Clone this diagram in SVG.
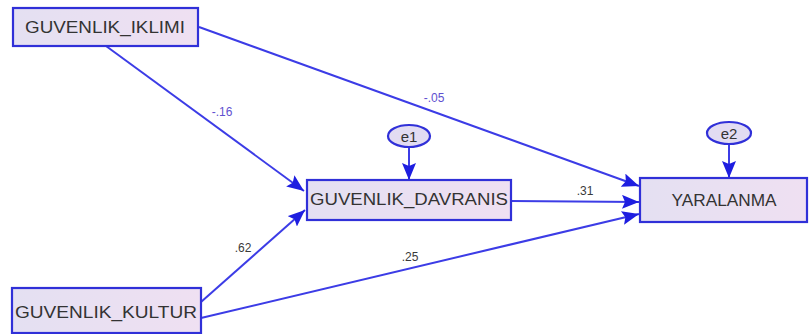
<svg xmlns="http://www.w3.org/2000/svg" width="811" height="334" viewBox="0 0 811 334">
  <defs>
    <linearGradient id="boxFill" x1="0" y1="0" x2="1" y2="0">
      <stop offset="0" stop-color="#e4e0f2"/>
      <stop offset="1" stop-color="#efe0f2"/>
    </linearGradient>
    <marker id="arrow" markerUnits="userSpaceOnUse" markerWidth="18" markerHeight="14" refX="17" refY="7" orient="auto">
      <path d="M0,0 L17,7 L0,14 L3,7 Z" fill="#1e1ee0"/>
    </marker>
    <style>
      .box { fill: url(#boxFill); stroke: #3030d8; stroke-width: 2.2; }
      .err { fill: #e2dcf2; stroke: #3030d8; stroke-width: 2.2; }
      .name { font-family: "Liberation Sans", Arial, sans-serif; font-size: 16px; fill: #333333; text-anchor: middle; dominant-baseline: central; }
      .ename { font-family: "Liberation Sans", Arial, sans-serif; font-size: 15px; fill: #333333; text-anchor: middle; dominant-baseline: central; }
      .path { stroke: #3c3ce6; stroke-width: 2; fill: none; marker-end: url(#arrow); }
      .coef { font-family: "Liberation Sans", Arial, sans-serif; font-size: 12px; text-anchor: middle; dominant-baseline: central; }
      .neg { fill: #6050d0; }
      .pos { fill: #3a3a3a; }
    </style>
  </defs>
  <rect width="811" height="334" fill="#ffffff"/>

  <g id="connectors">
    <line class="path" x1="106" y1="46" x2="304" y2="191"/>
    <line class="path" x1="199" y1="27" x2="639" y2="186"/>
    <line class="path" x1="511" y1="201" x2="639" y2="202"/>
    <line class="path" x1="201" y1="302" x2="305" y2="210"/>
    <line class="path" x1="201" y1="318" x2="639" y2="214"/>
    <line class="path" x1="409" y1="147" x2="409" y2="180"/>
    <line class="path" x1="729" y1="144" x2="729" y2="178"/>
  </g>

  <g id="labels">
    <text class="coef neg" x="222" y="112">-.16</text>
    <text class="coef neg" x="434" y="98">-.05</text>
    <text class="coef pos" x="585" y="191">.31</text>
    <text class="coef pos" x="243" y="248">.62</text>
    <text class="coef pos" x="410" y="257">.25</text>
  </g>

  <g id="guvenlik_iklimi">
    <rect class="box" x="13" y="8" width="185" height="38"/>
    <text class="name" x="105" y="27" textLength="160" lengthAdjust="spacingAndGlyphs">GUVENLIK_IKLIMI</text>
  </g>

  <g id="guvenlik_davranis">
    <rect class="box" x="307" y="180" width="204" height="40"/>
    <text class="name" x="409" y="199" textLength="198" lengthAdjust="spacingAndGlyphs">GUVENLIK_DAVRANIS</text>
  </g>

  <g id="yaralanma">
    <rect class="box" x="640" y="178" width="167" height="44"/>
    <text class="name" x="724" y="200" textLength="105" lengthAdjust="spacingAndGlyphs">YARALANMA</text>
  </g>

  <g id="guvenlik_kultur">
    <rect class="box" x="12" y="288" width="189" height="45"/>
    <text class="name" x="106" y="312" textLength="182" lengthAdjust="spacingAndGlyphs">GUVENLIK_KULTUR</text>
  </g>

  <g id="e1">
    <ellipse class="err" cx="409" cy="136" rx="21" ry="11"/>
    <text class="ename" x="409" y="136">e1</text>
  </g>

  <g id="e2">
    <ellipse class="err" cx="729" cy="133" rx="22" ry="11"/>
    <text class="ename" x="729" y="133">e2</text>
  </g>
</svg>
